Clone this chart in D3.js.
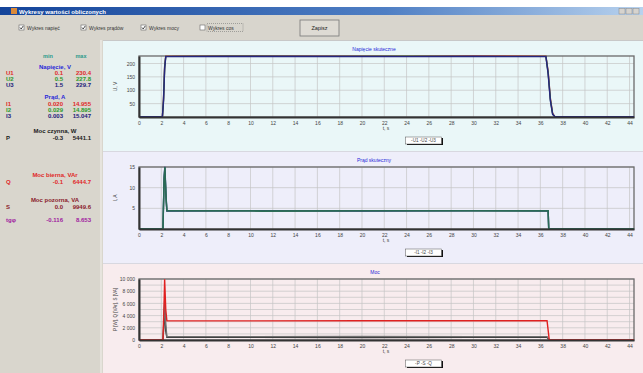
<!DOCTYPE html>
<html>
<head>
<meta charset="utf-8">
<script src="https://cdn.jsdelivr.net/npm/d3@7"></script>
<style>
  html, body { margin: 0; padding: 0; background: #fff; }
  svg { display: block; font-family: "Liberation Sans", Arial, sans-serif; }
</style>
</head>
<body>
<div id="chart"></div>
<script>
// values
const ticksX = d3.range(0, 45, 2);

const tU = [0, 2.1, 2.2, 2.3, 2.4, 8, 16, 24, 30, 36.5, 36.7, 36.9, 37.1, 37.3, 44.4];
const u1 = [0.1, 0.1, 70, 190, 227, 228, 227.5, 227, 228, 227.5, 170, 70, 15, 0.5, 0.1];
const u2 = [0.5, 0.5, 65, 185, 226.5, 227, 226.5, 227.5, 226.5, 226.5, 165, 65, 12, 0.5, 0.5];
const u3 = [1.5, 1.5, 60, 180, 225.5, 226, 226, 225.5, 226, 225.5, 160, 60, 10, 1.5, 1.5];

const tI = [0, 2.15, 2.25, 2.32, 2.42, 2.5, 10, 11, 20, 30, 36.7, 36.75, 44.4];
const i1 = [0.02, 0.02, 12, 14.95, 8, 4.45, 4.4, 4.3, 4.45, 4.4, 4.4, 0.02, 0.02];
const i2 = [0.03, 0.03, 11.5, 14.9, 7.5, 4.4, 4.45, 4.35, 4.4, 4.45, 4.4, 0.03, 0.03];
const i3 = [0.0, 0.0, 12.5, 15.05, 8.5, 4.35, 4.4, 4.4, 4.35, 4.4, 4.35, 0.0, 0.0];

const tP = [0, 2.15, 2.25, 2.3, 2.4, 2.5, 10, 20, 30, 36.6, 36.8, 44.4];
const pW = [0, 0, 3000, 5441, 1500, 430, 440, 420, 450, 430, 0, 0];
const qVar = [0, 0, 4000, 6444, 2500, 560, 550, 570, 555, 560, 0, 0];
const sVa = [0, 0, 6000, 9949, 5000, 3150, 3140, 3160, 3150, 3150, 0, 0];

const ticksU = [50, 100, 150, 200];
const ticksI = [5, 10, 15];
const ticksP = [0, 2000, 4000, 6000, 8000, 10000];

const toolbarItems = [
  { label: "Wykres napięć", checked: true },
  { label: "Wykres prądów", checked: true },
  { label: "Wykres mocy", checked: true },
  { label: "Wykres cos", checked: false },
];

const panelRows = [
  { k: "head", text: "Napięcie, V", color: "#2828d8" },
  { k: "row", name: "U1", min: "0.1", max: "230.4", color: "#e02828" },
  { k: "row", name: "U2", min: "0.5", max: "227.8", color: "#2a9a2a" },
  { k: "row", name: "U3", min: "1.5", max: "229.7", color: "#20207a" },
  { k: "head", text: "Prąd, A", color: "#2828d8" },
  { k: "row", name: "I1", min: "0.020", max: "14.955", color: "#e02828" },
  { k: "row", name: "I2", min: "0.029", max: "14.895", color: "#2a9a2a" },
  { k: "row", name: "I3", min: "0.003", max: "15.047", color: "#20207a" },
  { k: "head", text: "Moc czynna, W", color: "#202020" },
  { k: "row", name: "P", min: "-0.3", max: "5441.1", color: "#202020" },
  { k: "head", text: "Moc bierna, VAr", color: "#e02828" },
  { k: "row", name: "Q", min: "-0.1", max: "6444.7", color: "#e02828" },
  { k: "head", text: "Moc pozorna, VA", color: "#8a1a2a" },
  { k: "row", name: "S", min: "0.0", max: "9949.6", color: "#8a1a2a" },
  { k: "row", name: "tgφ", min: "-0.116", max: "8.653", color: "#a020a0" },
];
const panelY = [69, 75, 81, 87, 99, 105.5, 111.5, 117.5, 133, 139.5, 177, 184, 202, 209, 221.5];

const W = 643, H = 373;
const svg = d3.select("#chart").append("svg").attr("width", W).attr("height", H);

// window chrome
const grad = svg.append("defs").append("linearGradient").attr("id", "tb");
grad.append("stop").attr("offset", "0%").attr("stop-color", "#14449a");
grad.append("stop").attr("offset", "60%").attr("stop-color", "#4f7fc4");
grad.append("stop").attr("offset", "100%").attr("stop-color", "#b8d2ee");
svg.append("rect").attr("x", 0).attr("y", 7).attr("width", W).attr("height", 8).attr("fill", "url(#tb)");
svg.append("rect").attr("x", 11).attr("y", 8).attr("width", 6).attr("height", 6).attr("fill", "#d98a3a");
svg.append("text").attr("x", 19).attr("y", 13.5).attr("fill", "#fff").attr("font-size", 6)
  .attr("font-weight", "bold").text("Wykresy wartości obliczonych");
[619, 626, 633].forEach((bx) => {
  svg.append("rect").attr("x", bx).attr("y", 8.5).attr("width", 6).attr("height", 5.5)
    .attr("fill", "#d6d3ce").attr("stroke", "#888").attr("stroke-width", 0.5);
});

svg.append("rect").attr("x", 0).attr("y", 15).attr("width", W).attr("height", 25).attr("fill", "#d8d5cd");
const cbX = [19, 81, 141, 200];
toolbarItems.forEach((d, i) => {
  const g = svg.append("g").attr("transform", `translate(${cbX[i]},25)`);
  g.append("rect").attr("width", 5).attr("height", 5).attr("fill", "#fff").attr("stroke", "#666").attr("stroke-width", 0.6);
  if (d.checked) {
    g.append("path").attr("d", "M1,2.5 L2.2,4 L4.2,1").attr("fill", "none").attr("stroke", "#222").attr("stroke-width", 0.8);
  }
  g.append("text").attr("x", 8).attr("y", 4.8).attr("font-size", 5).attr("fill", "#333").text(d.label);
  if (!d.checked) {
    g.append("rect").attr("x", 7).attr("y", -1.5).attr("width", 36).attr("height", 8)
      .attr("fill", "none").attr("stroke", "#666").attr("stroke-width", 0.5).attr("stroke-dasharray", "1,1");
  }
});
svg.append("rect").attr("x", 300).attr("y", 20).attr("width", 39).attr("height", 16)
  .attr("fill", "#dedbd4").attr("stroke", "#777").attr("stroke-width", 0.8);
svg.append("text").attr("x", 319.5).attr("y", 30).attr("text-anchor", "middle").attr("font-size", 5.5)
  .attr("fill", "#222").text("Zapisz");

// left panel
svg.append("rect").attr("x", 0).attr("y", 40).attr("width", 103).attr("height", H - 40).attr("fill", "#d9d6cd");
svg.append("line").attr("x1", 101).attr("x2", 101).attr("y1", 40).attr("y2", H).attr("stroke", "#f4f2ee").attr("stroke-width", 1);
svg.append("text").attr("x", 48).attr("y", 57.5).attr("text-anchor", "middle").attr("font-size", 5.5)
  .attr("fill", "#2a9a8a").attr("font-weight", "bold").text("min");
svg.append("text").attr("x", 81).attr("y", 57.5).attr("text-anchor", "middle").attr("font-size", 5.5)
  .attr("fill", "#2a9a8a").attr("font-weight", "bold").text("max");
panelRows.forEach((d, i) => {
  const y = panelY[i];
  if (d.k === "head") {
    svg.append("text").attr("x", 55).attr("y", y).attr("text-anchor", "middle").attr("font-size", 6)
      .attr("font-weight", "bold").attr("fill", d.color).text(d.text);
  } else {
    const g = svg.append("g").attr("font-size", 6).attr("font-weight", "bold").attr("fill", d.color);
    g.append("text").attr("x", 6).attr("y", y).text(d.name);
    g.append("text").attr("x", 63).attr("y", y).attr("text-anchor", "end").text(d.min);
    g.append("text").attr("x", 91).attr("y", y).attr("text-anchor", "end").text(d.max);
  }
});

// charts
const x = d3.scaleLinear().domain([0, 44.4]).range([139, 634]);

const charts = [
  { top: 40, h: 111, bg: "#eaf7f8", y0: 117, y1: 56, max: 228, ticks: ticksU, grid: ticksU,
    title: "Napięcie skuteczne", ylab: "U, V", t: tU,
    series: [{ v: u1, c: "#c03040", n: "U1" }, { v: u2, c: "#2a7a4a", n: "U2" }, { v: u3, c: "#26267e", n: "U3" }],
    fmt: (d) => d },
  { top: 151, h: 112, bg: "#eeeefa", y0: 229, y1: 167, max: 15, ticks: ticksI, grid: ticksI,
    title: "Prąd skuteczny", ylab: "I, A", t: tI,
    series: [{ v: i3, c: "#26267e", n: "I1" }, { v: i1, c: "#3a7a5a", n: "I2" }, { v: i2, c: "#2a6a56", n: "I3" }],
    fmt: (d) => d },
  { top: 263, h: 110, bg: "#f8ecee", y0: 340, y1: 279, max: 10000, ticks: ticksP, grid: d3.range(1000, 10001, 1000),
    title: "Moc", ylab: "P [W], Q [VAr], S [VA]", t: tP,
    series: [{ v: pW, c: "#303030", n: "P" }, { v: qVar, c: "#707070", n: "S" }, { v: sVa, c: "#e02020", n: "Q" }],
    fmt: (d) => d3.format(",")(d).replace(",", " ") },
];

charts.forEach((ch, idx) => {
  const g = svg.append("g");
  g.append("rect").attr("x", 103).attr("y", ch.top).attr("width", W - 103).attr("height", ch.h).attr("fill", ch.bg);
  g.append("line").attr("x1", 103).attr("x2", W).attr("y1", ch.top + 0.5).attr("y2", ch.top + 0.5)
    .attr("stroke", idx === 0 ? "#c8c8c8" : "#d8d8e0").attr("stroke-width", 1);
  const y = d3.scaleLinear().domain([0, ch.max]).range([ch.y0, ch.y1]);

  // grid
  g.selectAll(".gx").data(ticksX.slice(1)).enter().append("line")
    .attr("x1", (d) => x(d)).attr("x2", (d) => x(d)).attr("y1", ch.y1).attr("y2", ch.y0)
    .attr("stroke", "#c4c4c4").attr("stroke-width", 0.7);
  g.selectAll(".gy").data(ch.grid).enter().append("line")
    .attr("x1", 139).attr("x2", 634).attr("y1", (d) => y(d)).attr("y2", (d) => y(d))
    .attr("stroke", "#c4c4c4").attr("stroke-width", 0.7);

  // frame
  g.append("rect").attr("x", 139).attr("y", ch.y1).attr("width", 634 - 139).attr("height", ch.y0 - ch.y1)
    .attr("fill", "none").attr("stroke", "#6a6a6a").attr("stroke-width", 1.3);

  // series
  const line = d3.line().x((d) => x(d[0])).y((d) => y(d[1]));
  ch.series.forEach((s) => {
    g.append("path").datum(ch.t.map((t, k) => [t, s.v[k]]))
      .attr("d", line).attr("fill", "none").attr("stroke", s.c).attr("stroke-width", 1.4);
  });

  // axes
  const ax = g.append("g").attr("transform", `translate(0,${ch.y0})`)
    .call(d3.axisBottom(x).tickValues(ticksX).tickSize(0).tickPadding(4).tickFormat((d) => d));
  ax.select(".domain").attr("stroke", "#333").attr("stroke-width", 2);
  ax.selectAll("text").attr("font-size", 5).attr("fill", "#444");
  const ay = g.append("g").attr("transform", "translate(139,0)")
    .call(d3.axisLeft(y).tickValues(ch.ticks).tickSize(0).tickPadding(4).tickFormat(ch.fmt));
  ay.select(".domain").attr("stroke", "#333").attr("stroke-width", 2);
  ay.selectAll("text").attr("font-size", 5).attr("fill", "#444");

  g.append("text").attr("x", 386).attr("y", ch.y0 + 13).attr("text-anchor", "middle").attr("font-size", 5)
    .attr("fill", "#444").text("t, s");
  g.append("text").attr("transform", `translate(117,${(ch.y0 + ch.y1) / 2}) rotate(-90)`)
    .attr("text-anchor", "middle").attr("font-size", ch.ylab.length > 6 ? 4.5 : 5).attr("fill", "#444").text(ch.ylab);
  g.append("text").attr("x", idx === 2 ? 375 : 374).attr("y", ch.y1 - 5).attr("text-anchor", "middle")
    .attr("font-size", 5).attr("fill", "#2828d8").text(ch.title);

  // legend box
  const ly = ch.y0 + 20;
  g.append("rect").attr("x", 407).attr("y", ly + 1).attr("width", 36).attr("height", 7).attr("fill", "#111");
  g.append("rect").attr("x", 405.5).attr("y", ly).attr("width", 36).attr("height", 7)
    .attr("fill", "#fff").attr("stroke", "#555").attr("stroke-width", 0.5);
  const lt = g.append("text").attr("x", 423.5).attr("y", ly + 5.2).attr("text-anchor", "middle").attr("font-size", 4.6);
  ch.series.forEach((s) => {
    lt.append("tspan").attr("fill", "#444").text("-" + s.n + " ");
  });
});
</script>
</body>
</html>
